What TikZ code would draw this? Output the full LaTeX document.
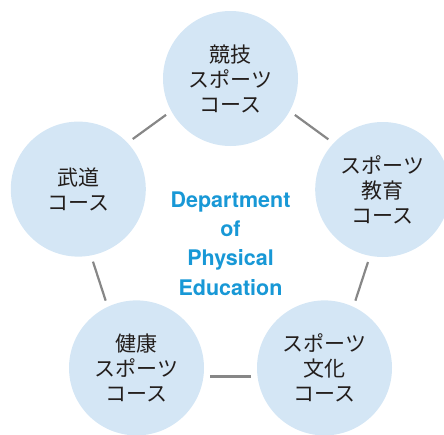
\documentclass[tikz,border=0pt]{standalone}
\usepackage{fontspec}
\setmainfont{TeX Gyre Heros}
\newfontfamily\jpfont{Noto Sans CJK JP}
\usetikzlibrary{calc}
\definecolor{circfill}{RGB}{212,230,245}
\definecolor{linegray}{RGB}{135,135,135}
\definecolor{deptblue}{RGB}{24,152,214}
\definecolor{jptext}{RGB}{35,30,28}
\begin{document}
\begin{tikzpicture}[x=1pt,y=-1pt,
  course/.style={circle,fill=circfill,minimum size=135pt,inner sep=0pt,outer sep=0pt,
    text=jptext,align=center,font=\jpfont\fontsize{21pt}{25pt}\selectfont},
  link/.style={draw=linegray,line width=2.2pt,shorten <=73.5pt,shorten >=73.5pt}]
\useasboundingbox (0,0) rectangle (444,434);
\clip (0,0) rectangle (444,434);
\node[course] (top) at (230.5,78.5) {競技\\スポーツ\\コース};
\node[course] (right) at (382.7,189.5) {スポーツ\\教育\\コース};
\node[course] (bright) at (324.5,367.9) {スポーツ\\文化\\コース};
\node[course] (bleft) at (136.5,367.9) {健康\\スポーツ\\コース};
\node[course] (left) at (78.3,189.1) {武道\\コース};
\node[text=deptblue,font=\bfseries\fontsize{21.5pt}{29.3pt}\selectfont,align=center] (dept) at (230.5,243.5) {Department\\of\\Physical\\Education};
\foreach \a/\b in {top/right,right/bright,bright/bleft,bleft/left,left/top}{
  \draw[link] ($(\a)!8.5pt!90:(\b)$) -- ($(\b)!8.5pt!-90:(\a)$);
}
\end{tikzpicture}
\end{document}
